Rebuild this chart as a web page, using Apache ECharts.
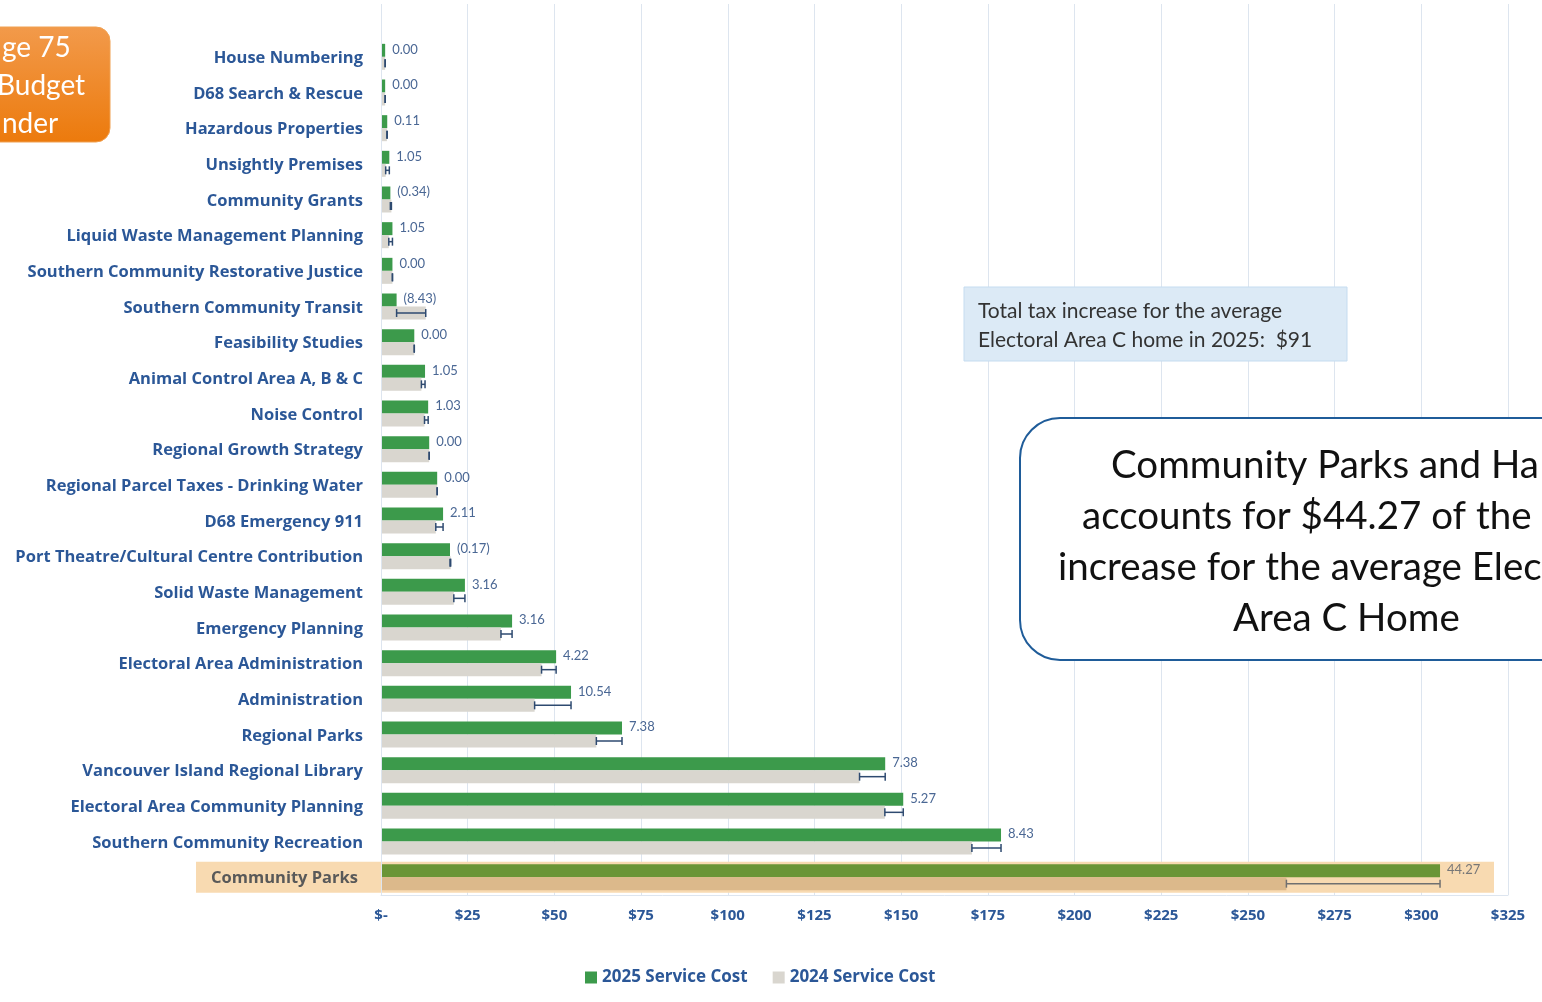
<!DOCTYPE html>
<html>
<head>
<meta charset="utf-8">
<title>Service Cost Comparison - Electoral Area C</title>
<script src="https://cdn.jsdelivr.net/npm/echarts@6/dist/echarts.min.js"></script>
<style>
  html, body { margin: 0; padding: 0; background: #fff; }
  #chart { width: 1542px; height: 1002px; }
</style>
</head>
<body>
<div id="chart"></div>
<script>
const categories = [
  'House Numbering', 'D68 Search & Rescue', 'Hazardous Properties', 'Unsightly Premises',
  'Community Grants', 'Liquid Waste Management Planning', 'Southern Community Restorative Justice',
  'Southern Community Transit', 'Feasibility Studies', 'Animal Control Area A, B & C',
  'Noise Control', 'Regional Growth Strategy', 'Regional Parcel Taxes - Drinking Water',
  'D68 Emergency 911', 'Port Theatre/Cultural Centre Contribution', 'Solid Waste Management',
  'Emergency Planning', 'Electoral Area Administration', 'Administration', 'Regional Parks',
  'Vancouver Island Regional Library', 'Electoral Area Community Planning',
  'Southern Community Recreation', 'Community Parks'
];
const cost2025 = [1.2, 1.2, 1.8, 2.4, 2.7, 3.3, 3.3, 4.5, 9.6, 12.7, 13.6, 13.9, 16.2, 17.9, 19.9, 24.2, 37.8, 50.5, 54.8, 69.5, 145.4, 150.6, 178.8, 305.4];
const cost2024 = [1.2, 1.2, 1.7, 1.35, 3.0, 2.25, 3.3, 12.9, 9.6, 11.65, 12.55, 13.9, 16.2, 15.8, 20.1, 21.0, 34.6, 46.3, 44.3, 62.1, 138.0, 145.3, 170.4, 261.1];
const changeLabels = ['0.00', '0.00', '0.11', '1.05', '(0.34)', '1.05', '0.00', '(8.43)', '0.00', '1.05', '1.03', '0.00', '0.00', '2.11', '(0.17)', '3.16', '3.16', '4.22', '10.54', '7.38', '7.38', '5.27', '8.43', '44.27'];
const xTicks = ['$-', '$25', '$50', '$75', '$100', '$125', '$150', '$175', '$200', '$225', '$250', '$275', '$300', '$325'];
const HIGHLIGHT = 'Community Parks';

const BLUE_TEXT = '#2b5797';
const GREEN = '#3c9a4b';
const GREY = '#d9d6cf';
const HL_GREEN = '#6a9536';
const HL_TAN = '#dcb98b';
const GRID_LINE = '#dde5ef';
const BAR_W = 13;
const LABEL_FONT = '"Open Sans"';

const chart = echarts.init(document.getElementById('chart'));

const hlIndex = categories.indexOf(HIGHLIGHT);

const option = {
  animation: false,
  textStyle: { fontFamily: 'Lato' },
  grid: [
    { left: 381, right: 34, top: 39, bottom: 107 },
    // plot area continues a bit above the first row
    { left: 381, right: 34, top: 4, height: 35 }
  ],
  legend: {
    left: 580,
    bottom: 11,
    itemWidth: 12,
    itemHeight: 12,
    itemGap: 25,
    icon: 'rect',
    textStyle: { color: BLUE_TEXT, fontSize: 17, fontWeight: 'bold', fontFamily: LABEL_FONT },
    data: ['2025 Service Cost', '2024 Service Cost']
  },
  xAxis: [
    {
      type: 'value',
      min: 0,
      max: 325,
      interval: 25,
      axisLine: { show: true, lineStyle: { color: GRID_LINE } },
      axisTick: { show: false },
      splitLine: { show: true, lineStyle: { color: GRID_LINE, width: 1 } },
      axisLabel: {
        color: BLUE_TEXT,
        fontSize: 15,
        fontWeight: 'bold',
        fontFamily: LABEL_FONT,
        margin: 13,
        formatter: (v) => xTicks[Math.round(v / 25)]
      }
    },
    {
      type: 'value',
      gridIndex: 1,
      min: 0,
      max: 325,
      interval: 25,
      axisLine: { show: false },
      axisTick: { show: false },
      axisLabel: { show: false },
      splitLine: { show: true, lineStyle: { color: GRID_LINE, width: 1 } }
    }
  ],
  yAxis: [
    {
      type: 'category',
      inverse: true,
      z: 4,
      data: categories,
      axisLine: { show: true, lineStyle: { color: GRID_LINE } },
      axisTick: { show: false },
      axisLabel: {
        color: BLUE_TEXT,
        fontSize: 16.5,
        fontWeight: 'bold',
        fontFamily: LABEL_FONT,
        margin: 18,
        padding: [3, 0, 0, 0],
        formatter: (v) => (v === HIGHLIGHT ? '{hl|' + v + '}' : v),
        rich: {
          hl: { color: '#595959', fontSize: 16.5, fontWeight: 'bold', fontFamily: LABEL_FONT, padding: [0, 5, 0, 0] }
        }
      }
    },
    {
      type: 'category',
      gridIndex: 1,
      data: [],
      axisLine: { show: false },
      axisTick: { show: false },
      axisLabel: { show: false }
    }
  ],
  series: [
    {
      // highlight band behind the Community Parks row
      type: 'custom',
      silent: true,
      z: 1,
      data: [[0, hlIndex]],
      renderItem: (params, api) => {
        const cs = params.coordSys;
        const y = api.coord([0, api.value(1)])[1];
        return {
          type: 'rect',
          shape: { x: cs.x - 185, y: y - 15.5, width: cs.width + 185 - 14, height: 31 },
          style: { fill: '#f8dab1' }
        };
      }
    },
    {
      name: '2025 Service Cost',
      type: 'bar',
      z: 2,
      barWidth: BAR_W,
      barGap: '0%',
      itemStyle: { color: GREEN },
      data: cost2025.map((v, i) => ({
        value: v,
        itemStyle: i === hlIndex ? { color: HL_GREEN } : undefined,
        label: i === hlIndex ? { color: '#777777' } : undefined
      })),
      label: {
        show: true,
        position: 'right',
        distance: 7,
        offset: [0, -1],
        fontSize: 13,
        color: '#4a6794',
        formatter: (p) => changeLabels[p.dataIndex]
      }
    },
    {
      name: '2024 Service Cost',
      type: 'bar',
      z: 2,
      barWidth: BAR_W,
      barGap: '0%',
      itemStyle: { color: GREY },
      data: cost2024.map((v, i) => ({
        value: v,
        itemStyle: i === hlIndex ? { color: HL_TAN } : undefined
      }))
    },
    {
      // change markers drawn over the 2024 bars
      type: 'custom',
      silent: true,
      z: 3,
      data: cost2024.map((v, i) => [i, v, cost2025[i]]),
      renderItem: (params, api) => {
        const idx = api.value(0);
        const a = api.coord([api.value(1), idx]);
        const b = api.coord([api.value(2), idx]);
        const y = a[1] + BAR_W / 2;
        const color = idx === hlIndex ? '#707070' : '#2e4a70';
        const cap = 4;
        const style = { stroke: color, lineWidth: 1.5 };
        return {
          type: 'group',
          children: [
            { type: 'line', shape: { x1: a[0], y1: y, x2: b[0], y2: y }, style },
            { type: 'line', shape: { x1: a[0], y1: y - cap, x2: a[0], y2: y + cap }, style },
            { type: 'line', shape: { x1: b[0], y1: y - cap, x2: b[0], y2: y + cap }, style }
          ]
        };
      }
    }
  ],
  graphic: [
    {
      type: 'rect',
      z: 10,
      shape: { x: -40, y: 27, width: 150, height: 115, r: 14 },
      style: {
        fill: new echarts.graphic.LinearGradient(0, 0, 0, 1, [
          { offset: 0, color: '#f29a4b' },
          { offset: 1, color: '#ec7a0c' }
        ]),
        stroke: '#f0a050',
        lineWidth: 1
      }
    },
    { type: 'text', z: 11, x: 2, y: 34, style: { text: 'ge 75', fill: '#fff', font: '28px Lato' } },
    { type: 'text', z: 11, x: -3, y: 72, style: { text: 'Budget', fill: '#fff', font: '28px Lato' } },
    { type: 'text', z: 11, x: 2, y: 110, style: { text: 'nder', fill: '#fff', font: '28px Lato' } },
    {
      type: 'rect',
      z: 10,
      shape: { x: 964, y: 287, width: 383, height: 74 },
      style: { fill: '#dceaf6', stroke: '#c5dcf0', lineWidth: 1 }
    },
    {
      type: 'text',
      z: 11,
      x: 978,
      y: 297,
      style: {
        text: 'Total tax increase for the average\nElectoral Area C home in 2025:  $91',
        fill: '#333333',
        font: '21px Lato',
        lineHeight: 29
      }
    },
    {
      type: 'rect',
      z: 10,
      shape: { x: 1020, y: 418, width: 600, height: 242, r: 40 },
      style: { fill: '#ffffff', stroke: '#1f5c99', lineWidth: 2 }
    },
    { type: 'text', z: 11, x: 1111, y: 446, style: { text: 'Community Parks and Ha', fill: '#111', font: '38.5px Lato' } },
    { type: 'text', z: 11, x: 1082, y: 497, style: { text: 'accounts for $44.27 of the', fill: '#111', font: '38.5px Lato' } },
    { type: 'text', z: 11, x: 1058, y: 548, style: { text: 'increase for the average Elec', fill: '#111', font: '38.5px Lato' } },
    { type: 'text', z: 11, x: 1233, y: 599, style: { text: 'Area C Home', fill: '#111', font: '38.5px Lato' } }
  ]
};

chart.setOption(option);
</script>
</body>
</html>
